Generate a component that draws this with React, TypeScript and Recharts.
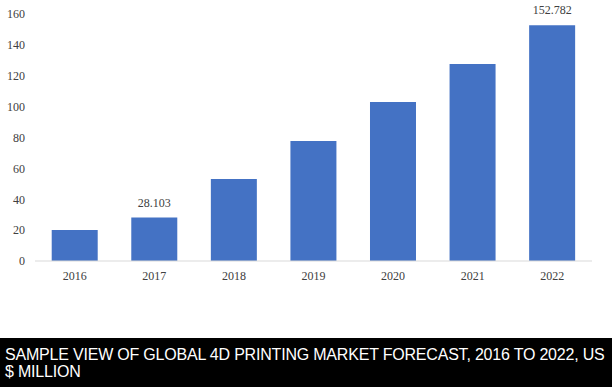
import React from "react";
import { BarChart, Bar, XAxis, YAxis, LabelList } from "recharts";

const years = ["2016", "2017", "2018", "2019", "2020", "2021", "2022"];
const values = [20.1, 28.103, 53.1, 77.7, 103.0, 127.6, 152.782];
const valueLabels = ["", "28.103", "", "", "", "", "152.782"];
const yTicks = [0, 20, 40, 60, 80, 100, 120, 140, 160];
const title = "SAMPLE VIEW OF GLOBAL 4D PRINTING MARKET FORECAST, 2016 TO 2022, US $ MILLION";

const data = years.map((y, i) => ({ year: y, value: values[i], label: valueLabels[i] }));

export default function App() {
  return (
    <div style={{ position: "absolute", left: 0, top: 0, width: 612, height: 387, background: "#fff" }}>
      <BarChart
        width={612}
        height={338}
        data={data}
        margin={{ top: 14, right: 20, left: 0, bottom: 47 }}
        barCategoryGap="21%"
      >
        <XAxis
          dataKey="year"
          height={30}
          axisLine={{ stroke: "#d9d9d9" }}
          tickLine={false}
          tickSize={0}
          tickMargin={10}
          tick={{ fill: "#404040", fontSize: 12, fontFamily: "Liberation Serif" }}
        />
        <YAxis
          width={35}
          domain={[0, 160]}
          ticks={yTicks}
          axisLine={false}
          tickLine={false}
          tickSize={0}
          tickMargin={10}
          tick={{ fill: "#404040", fontSize: 12, fontFamily: "Liberation Serif" }}
        />
        <Bar dataKey="value" fill="#4472C4" isAnimationActive={false}>
          <LabelList
            dataKey="label"
            position="top"
            offset={11}
            style={{ fill: "#404040", fontSize: 12, fontFamily: "Liberation Serif" }}
          />
        </Bar>
      </BarChart>
      <div
        style={{
          position: "absolute",
          left: 0,
          top: 338,
          width: 612,
          height: 49,
          background: "#000",
          color: "#fff",
          fontFamily: "Liberation Sans, Arial, sans-serif",
          fontSize: 16,
          lineHeight: "17px",
          padding: "8px 4px 0 5px",
          boxSizing: "border-box",
          letterSpacing: "-0.2px",
        }}
      >
        {title}
      </div>
    </div>
  );
}
